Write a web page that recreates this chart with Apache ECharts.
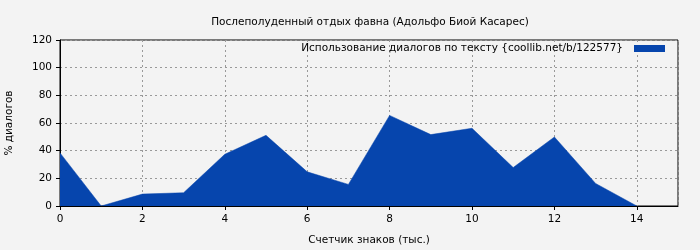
<!DOCTYPE html>
<html><head><meta charset="utf-8">
<script src="https://cdn.jsdelivr.net/npm/echarts@6/dist/echarts.min.js"></script>
<style>html,body{margin:0;padding:0;background:#f3f3f3}#c{width:700px;height:250px}</style>
</head><body><div id="c"></div>
<script>
const xValues = [0,1,2,3,4,5,6,7,8,9,10,11,12,13,14];
const yValues = [38.4,0,8.6,9.6,37.4,51.1,24.7,15.6,65.5,51.6,56.2,27.8,49.9,16.3,0];
const titleText = 'Послеполуденный отдых фавна (Адольфо Биой Касарес)';
const seriesName = 'Использование диалогов по тексту {coollib.net/b/122577}';
const xName = 'Счетчик знаков (тыс.)';
const yName = '% диалогов';
const font = 'DejaVu Sans';
const fs = 10.5;
const chart = echarts.init(document.getElementById('c'), null, {renderer:'canvas'});
chart.setOption({
  backgroundColor:'#f3f3f3',
  animation:false,
  textStyle:{fontFamily:font},
  title:{text:titleText,left:365,top:12,textAlign:'center',textStyle:{fontSize:fs,fontWeight:'normal',color:'#000',fontFamily:font}},
  legend:{right:35,top:43,itemWidth:31,itemHeight:7,itemGap:6,icon:'rect',align:'right',padding:0,
    textStyle:{fontSize:fs,color:'#000',fontFamily:font,padding:[0,6,0,0]},data:[seriesName]},
  grid:{left:60,right:22,top:40,bottom:44,show:true,borderColor:'#000',borderWidth:1,backgroundColor:'transparent',outerBoundsMode:'none',containLabel:false},
  xAxis:{type:'value',min:0,max:15,interval:2,name:xName,nameLocation:'middle',nameGap:29,
    nameTextStyle:{fontSize:fs,color:'#000',fontFamily:font},
    axisLine:{lineStyle:{color:'#000'}},axisTick:{show:true,length:4,lineStyle:{color:'#000'}},
    axisLabel:{fontSize:fs,color:'#000',margin:8,fontFamily:font,showMaxLabel:false},
    splitLine:{show:true,lineStyle:{color:'#999',type:[2,3],width:1}}},
  yAxis:{type:'value',min:0,max:120,interval:20,name:yName,nameLocation:'middle',nameGap:45,
    nameTextStyle:{fontSize:fs,color:'#000',fontFamily:font},
    axisLine:{show:true,lineStyle:{color:'#000'}},axisTick:{show:true,length:4,lineStyle:{color:'#000'}},
    axisLabel:{fontSize:fs,color:'#000',margin:8,fontFamily:font},
    splitLine:{show:true,lineStyle:{color:'#999',type:[2,3],width:1}}},
  series:[{name:seriesName,type:'line',data:xValues.map((x,i)=>[x,yValues[i]]),
    showSymbol:false,symbol:'none',color:'#0645ad',
    lineStyle:{width:0.5,color:'#0645ad'},areaStyle:{color:'#0645ad',opacity:1}}]
});
</script></body></html>
